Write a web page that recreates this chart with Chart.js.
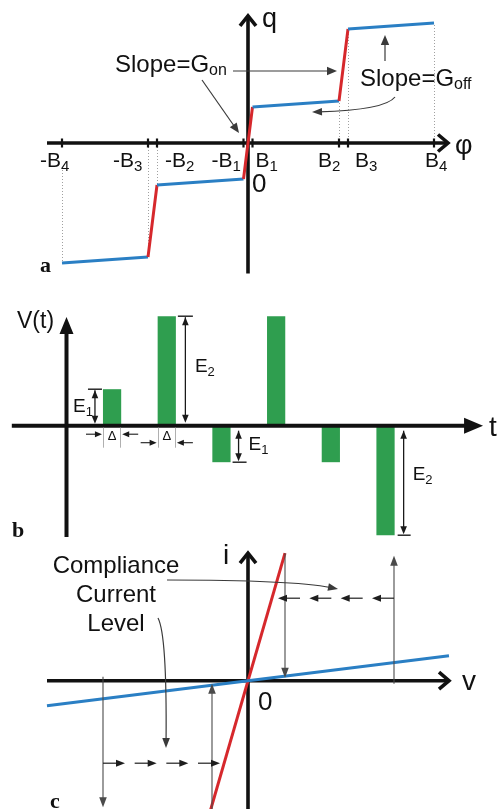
<!DOCTYPE html>
<html>
<head>
<meta charset="utf-8">
<title>Memristor: q–φ characteristic, pulse train and i–v response</title>
<script src="https://cdn.jsdelivr.net/npm/chart.js@4.4.1/dist/chart.umd.min.js"></script>
<style>
  html, body { margin: 0; padding: 0; background: #fff; }
  body { position: relative; width: 501px; height: 809px; overflow: hidden; }
  canvas { position: absolute; left: 0; display: block; }
</style>
</head>
<body>
<canvas id="panelA" width="501" height="285" style="top:0"></canvas>
<canvas id="panelB" width="501" height="255" style="top:285px"></canvas>
<canvas id="panelC" width="501" height="269" style="top:540px"></canvas>
<script>
// ---- (a) piecewise-linear charge–flux characteristic ----
const phiPoints = [-3.72, -2.0, -1.82, -0.09, 0.09, 1.82, 2.0, 3.72];   // -B4 .. B4
const qPoints   = [-4.0, -3.8, -1.4, -1.2, 1.2, 1.4, 3.8, 4.0];
const phiTickLabels = ['-B4', '-B3', '-B2', '-B1', 'B1', 'B2', 'B3', 'B4'];

// ---- (b) voltage pulse train (amplitude in units of E1; E2 = 3·E1) ----
const pulseTimes  = [2.5, 5.5, 8.5, 11.5, 14.5, 17.5];
const pulseLevels = [1, 3, -1, 3, -1, -3];

// ---- (c) i–v lines of the ON and OFF states ----
const onV  = [-0.75, 0.74];
const onI  = [-2.59, 2.55];
const offV = [-4.02, 4.02];
const offI = [-0.5, 0.5];
const complianceI = [1.65, -1.65];
const sweepV = [-2.9, -0.72, 0.74, 2.92];

const INK = '#111111';
const THIN = '#3a3a3a';
const BLUE = '#2a7fc4';
const RED = '#d6282c';
const GREEN = '#2f9e4f';
const SANS = '"Liberation Sans", Arial, sans-serif';
const SERIF = '"Liberation Serif", "Times New Roman", serif';

// value range that puts the origin at (ox, oy) with ux / uy pixels per unit
function frame(w, h, ox, oy, ux, uy) {
  return { xmin: -ox / ux, xmax: (w - ox) / ux, ymin: -(h - oy) / uy, ymax: oy / uy };
}

function baseOptions(r) {
  return {
    responsive: false,
    animation: false,
    devicePixelRatio: 1,
    events: [],
    layout: { padding: 0 },
    plugins: { legend: { display: false }, tooltip: { enabled: false } },
    scales: {
      x: { type: 'linear', display: false, offset: false, min: r.xmin, max: r.xmax,
           ticks: { display: false }, afterBuildTicks: s => { s.ticks = []; } },
      y: { type: 'linear', display: false, min: r.ymin, max: r.ymax, ticks: { display: false } }
    }
  };
}

// ---- drawing helpers ----
function seg(ctx, x1, y1, x2, y2) {
  ctx.beginPath(); ctx.moveTo(x1, y1); ctx.lineTo(x2, y2); ctx.stroke();
}
function head(ctx, x, y, a, len, half) {
  ctx.save(); ctx.translate(x, y); ctx.rotate(a);
  ctx.beginPath(); ctx.moveTo(0, 0); ctx.lineTo(-len, -half); ctx.lineTo(-len, half); ctx.closePath();
  ctx.fill(); ctx.restore();
}
function arrow(ctx, x1, y1, x2, y2, o) {
  o = o || {};
  const len = o.len || 9, half = o.half || 3.5;
  const a = Math.atan2(y2 - y1, x2 - x1);
  ctx.save();
  ctx.strokeStyle = ctx.fillStyle = o.color || THIN;
  ctx.lineWidth = o.width || 1.2;
  seg(ctx, x1, y1, x2 - Math.cos(a) * len * 0.7, y2 - Math.sin(a) * len * 0.7);
  head(ctx, x2, y2, a, len, half);
  if (o.both) head(ctx, x1, y1, a + Math.PI, len, half);
  ctx.restore();
}
function curvedArrow(ctx, x1, y1, cx, cy, x2, y2) {
  const len = 10, half = 3.8;
  const a = Math.atan2(y2 - cy, x2 - cx);
  ctx.save();
  ctx.strokeStyle = ctx.fillStyle = THIN; ctx.lineWidth = 1.2;
  ctx.beginPath(); ctx.moveTo(x1, y1);
  ctx.quadraticCurveTo(cx, cy, x2 - Math.cos(a) * len * 0.7, y2 - Math.sin(a) * len * 0.7);
  ctx.stroke();
  head(ctx, x2, y2, a, len, half);
  ctx.restore();
}
// open arrow tip used on the axes of (a) and (c)
function chevron(ctx, x, y, a, len, half) {
  ctx.save(); ctx.translate(x, y); ctx.rotate(a);
  ctx.beginPath(); ctx.moveTo(-len, -half); ctx.lineTo(0, 0); ctx.lineTo(-len, half);
  ctx.stroke(); ctx.restore();
}
function text(ctx, s, x, y, size, o) {
  o = o || {};
  ctx.save();
  ctx.font = (o.bold ? 'bold ' : '') + size + 'px ' + (o.font || SANS);
  ctx.fillStyle = o.color || INK;
  ctx.textAlign = o.align || 'left';
  ctx.textBaseline = 'alphabetic';
  ctx.fillText(s, x, y);
  ctx.restore();
}
// main text followed by a lowered, smaller subscript
function subText(ctx, main, sub, x, y, size, subSize, drop, align) {
  ctx.save();
  ctx.font = size + 'px ' + SANS;
  const w1 = ctx.measureText(main).width;
  ctx.font = subSize + 'px ' + SANS;
  const w2 = ctx.measureText(sub).width;
  let left = x;
  if (align === 'right') left = x - w1 - w2;
  if (align === 'center') left = x - (w1 + w2) / 2;
  ctx.fillStyle = INK; ctx.textBaseline = 'alphabetic'; ctx.textAlign = 'left';
  ctx.font = size + 'px ' + SANS; ctx.fillText(main, left, y);
  ctx.font = subSize + 'px ' + SANS; ctx.fillText(sub, left + w1, y + drop);
  ctx.restore();
}

// ================= (a) q–φ =================
const rangeA = frame(501, 285, 248, 143, 50, 30);
const labelShiftA = [-22, -35, 8, -32, 3, -21, 7, -9];

const panelAPlugin = {
  id: 'panelA',
  beforeDatasetsDraw(chart) {
    const ctx = chart.ctx, X = v => chart.scales.x.getPixelForValue(v), Y = v => chart.scales.y.getPixelForValue(v);
    const x0 = X(0), y0 = Y(0);
    // dotted guides from the axis to the outer corners
    ctx.save();
    ctx.strokeStyle = '#a0a0a0'; ctx.lineWidth = 1; ctx.setLineDash([1, 2]);
    phiPoints.forEach((p, i) => {
      if (Math.abs(p) < 1) return;
      const xp = Math.round(X(p)) + 0.5;
      if (p > 0) seg(ctx, xp, y0, xp, Y(qPoints[i]));
      else seg(ctx, xp, y0 + (i === 0 ? 27 : 4), xp, Y(qPoints[i]));
    });
    ctx.restore();
    // axes
    ctx.save();
    ctx.strokeStyle = INK; ctx.lineWidth = 3.6; ctx.lineJoin = 'miter';
    seg(ctx, X(-4.02), y0, X(4.02) - 2, y0);
    chevron(ctx, X(4.02) - 1, y0, 0, 10, 8.5);
    seg(ctx, x0, Y(-4.35), x0, Y(4.27) + 2);
    chevron(ctx, x0, Y(4.27) + 1, -Math.PI / 2, 10, 8);
    // tick marks at the breakpoints
    ctx.lineWidth = 2.2;
    phiPoints.forEach(p => seg(ctx, X(p), y0 - 4.5, X(p), y0 + 4.5));
    ctx.restore();
  },
  afterDatasetsDraw(chart) {
    const ctx = chart.ctx, X = v => chart.scales.x.getPixelForValue(v), Y = v => chart.scales.y.getPixelForValue(v);
    const x0 = X(0), y0 = Y(0);
    phiTickLabels.forEach((lab, i) => {
      subText(ctx, lab.slice(0, -1), lab.slice(-1), X(phiPoints[i]) + labelShiftA[i], y0 + 24, 21, 15, 4);
    });
    text(ctx, '0', x0 + 4, y0 + 49, 26);
    text(ctx, 'q', x0 + 14, 27, 27);
    text(ctx, 'φ', 455, y0 + 11, 27);
    text(ctx, 'a', 40, 272, 22, { bold: true, font: SERIF });

    // slope call-outs
    subText(ctx, 'Slope=G', 'on', 115, 72, 24, 16, 3);
    arrow(ctx, 233, 71, 337, 71, { len: 10, half: 4.2 });
    arrow(ctx, 202, 80, 239, 133, { len: 10, half: 4.2 });
    subText(ctx, 'Slope=G', 'off', 360, 86, 24, 16, 3);
    arrow(ctx, 385, 61, 385, 35, { len: 10, half: 4.2 });
    curvedArrow(ctx, 395, 97, 385, 110, 312, 112);
  }
};

new Chart(document.getElementById('panelA'), {
  type: 'line',
  data: {
    datasets: [{
      data: phiPoints.map((p, i) => ({ x: p, y: qPoints[i] })),
      borderWidth: 3,
      borderColor: BLUE,
      pointRadius: 0,
      tension: 0,
      fill: false,
      segment: { borderColor: c => (c.p0DataIndex % 2 ? RED : BLUE) }
    }]
  },
  options: baseOptions(rangeA),
  plugins: [panelAPlugin]
});

// ================= (b) V(t) =================
const rangeB = frame(501, 255, 66.5, 140.7, 18.23, 36.5);

const panelBPlugin = {
  id: 'panelB',
  afterDatasetsDraw(chart) {
    const ctx = chart.ctx, X = v => chart.scales.x.getPixelForValue(v), Y = v => chart.scales.y.getPixelForValue(v);
    const x0 = X(0), y0 = Y(0);
    const bars = chart.getDatasetMeta(0).data;
    const L = b => b.x - b.width / 2, R = b => b.x + b.width / 2;

    // axes with solid arrow tips
    ctx.save();
    ctx.strokeStyle = ctx.fillStyle = INK; ctx.lineWidth = 4;
    const tTip = X(22.85), vTip = Y(2.98);
    seg(ctx, X(-3.0), y0, tTip - 16, y0);
    head(ctx, tTip, y0, 0, 19, 8);
    seg(ctx, x0, Y(-3.05), x0, vTip + 14);
    head(ctx, x0, vTip, -Math.PI / 2, 17, 7);
    ctx.restore();

    const dbl = { len: 8, half: 3.3, color: '#1a1a1a', width: 1.3, both: true };
    ctx.save(); ctx.strokeStyle = '#1a1a1a'; ctx.lineWidth = 1.4;
    // E1 on the first pulse
    let b = bars[0];
    seg(ctx, L(b) - 15, b.y, L(b) - 1, b.y);
    arrow(ctx, L(b) - 8, b.y + 1, L(b) - 8, y0 - 2, dbl);
    subText(ctx, 'E', '1', L(b) - 30, y0 - 14, 19, 13, 4);
    // E2 on the second pulse
    b = bars[1];
    seg(ctx, R(b) + 2, b.y, R(b) + 17, b.y);
    arrow(ctx, R(b) + 9.5, b.y + 1, R(b) + 9.5, y0 - 3, dbl);
    subText(ctx, 'E', '2', R(b) + 19, (b.y + y0) / 2 + 1, 19, 13, 4);
    // E1 below the third pulse
    b = bars[2];
    seg(ctx, R(b) + 2, b.y, R(b) + 16, b.y);
    arrow(ctx, R(b) + 8, y0 + 5, R(b) + 8, b.y - 1, dbl);
    subText(ctx, 'E', '1', R(b) + 18, y0 + 24, 19, 13, 4);
    // E2 below the last pulse
    b = bars[5];
    seg(ctx, R(b) + 3, b.y, R(b) + 16, b.y);
    arrow(ctx, R(b) + 9, y0 + 5, R(b) + 9, b.y - 1, dbl);
    subText(ctx, 'E', '2', R(b) + 18, y0 + 54, 19, 13, 4);
    ctx.restore();

    // pulse width Δ markers
    [[bars[0], 8.5], [bars[1], 17]].forEach(([bb, dy]) => {
      ctx.save();
      ctx.strokeStyle = '#b0b0b0'; ctx.lineWidth = 1;
      seg(ctx, Math.round(L(bb)) + 0.5, y0 + 2, Math.round(L(bb)) + 0.5, y0 + 22);
      seg(ctx, Math.round(R(bb)) - 0.5, y0 + 2, Math.round(R(bb)) - 0.5, y0 + 22);
      ctx.restore();
      const sm = { len: 7, half: 3, color: '#1a1a1a', width: 1.1 };
      arrow(ctx, L(bb) - 17, y0 + dy, L(bb) - 1, y0 + dy, sm);
      arrow(ctx, R(bb) + 17, y0 + dy, R(bb) + 1, y0 + dy, sm);
      text(ctx, 'Δ', bb.x, y0 + 14, 13, { align: 'center' });
    });

    text(ctx, 'V(t)', 17, 43, 23);
    text(ctx, 't', 489, y0 + 10, 28);
    text(ctx, 'b', 12, 252, 22, { bold: true, font: SERIF });
  }
};

new Chart(document.getElementById('panelB'), {
  type: 'bar',
  data: {
    datasets: [{
      data: pulseTimes.map((t, i) => ({ x: t, y: pulseLevels[i] })),
      backgroundColor: GREEN,
      borderWidth: 0,
      barPercentage: 1,
      categoryPercentage: 1 / 3
    }]
  },
  options: baseOptions(rangeB),
  plugins: [panelBPlugin]
});

// ================= (c) i–v =================
const rangeC = frame(501, 269, 248, 140.7, 50, 50);

function dashedArrows(ctx, xs, xe, y, n) {
  const dir = Math.sign(xe - xs), g = 22;
  const period = (Math.abs(xe - xs) - g) / (n - 1);
  for (let k = 0; k < n; k++) {
    const tip = xs + dir * (g + k * period);
    arrow(ctx, tip - dir * g, y, tip, y, { len: 9, half: 3.5, color: '#1e1e1e', width: 1.2 });
  }
}

const panelCPlugin = {
  id: 'panelC',
  beforeDatasetsDraw(chart) {
    const ctx = chart.ctx, X = v => chart.scales.x.getPixelForValue(v), Y = v => chart.scales.y.getPixelForValue(v);
    const x0 = X(0), y0 = Y(0);
    ctx.save();
    ctx.strokeStyle = INK; ctx.lineWidth = 3.6; ctx.lineJoin = 'miter';
    seg(ctx, X(-4.02), y0, X(4.04) - 2, y0);
    chevron(ctx, X(4.04) - 1, y0, 0, 10, 8.5);
    seg(ctx, x0, Y(-2.7), x0, Y(2.57) + 2);
    chevron(ctx, x0, Y(2.57) + 1, -Math.PI / 2, 10, 8);
    ctx.restore();
  },
  afterDatasetsDraw(chart) {
    const ctx = chart.ctx, X = v => chart.scales.x.getPixelForValue(v), Y = v => chart.scales.y.getPixelForValue(v);
    const x0 = X(0), y0 = Y(0);
    const sw = { len: 10, half: 3.8, color: '#4a4a4a', width: 1.1 };
    // voltage sweeps
    arrow(ctx, X(sweepV[2]), Y(onI[1]), X(sweepV[2]), y0 - 3, sw);
    arrow(ctx, X(sweepV[3]), y0 + 3, X(sweepV[3]), Y(2.5), sw);
    arrow(ctx, X(sweepV[0]), y0 - 4, X(sweepV[0]), Y(-2.53), sw);
    arrow(ctx, X(sweepV[1]), chart.height + 2, X(sweepV[1]), y0 + 3, sw);
    // current held at the compliance level
    dashedArrows(ctx, X(sweepV[3]), X(0.6), Y(complianceI[0]), 4);
    dashedArrows(ctx, X(sweepV[0]), X(-0.56), Y(complianceI[1]), 4);

    text(ctx, 'Compliance', 116, 33, 24, { align: 'center' });
    text(ctx, 'Current', 116, 62, 24, { align: 'center' });
    text(ctx, 'Level', 116, 91, 24, { align: 'center' });
    curvedArrow(ctx, 167, 40, 292, 40, 338, 49);
    curvedArrow(ctx, 158, 78, 167, 95, 166, 208);

    text(ctx, 'i', 223, 24, 28);
    text(ctx, 'v', 462, y0 + 9, 28);
    text(ctx, '0', x0 + 10, y0 + 29, 26);
    text(ctx, 'c', 50, 268, 22, { bold: true, font: SERIF });
  }
};

new Chart(document.getElementById('panelC'), {
  type: 'line',
  data: {
    datasets: [
      { data: offV.map((v, i) => ({ x: v, y: offI[i] })), borderColor: BLUE, borderWidth: 3, pointRadius: 0, tension: 0, fill: false },
      { data: onV.map((v, i) => ({ x: v, y: onI[i] })), borderColor: RED, borderWidth: 3, pointRadius: 0, tension: 0, fill: false }
    ]
  },
  options: baseOptions(rangeC),
  plugins: [panelCPlugin]
});
</script>
</body>
</html>
